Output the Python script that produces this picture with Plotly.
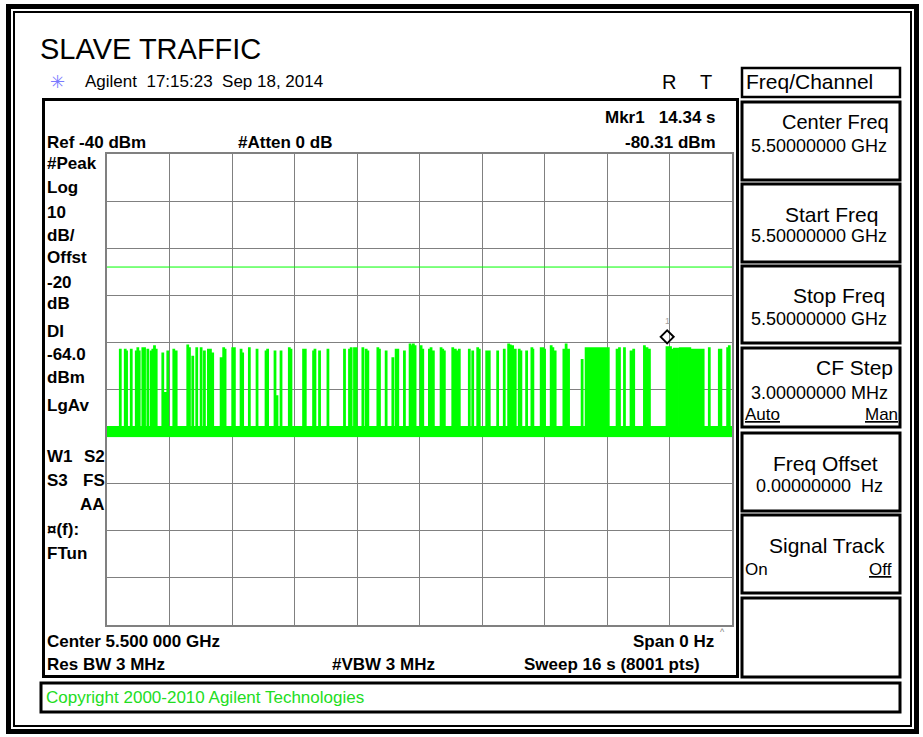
import plotly.graph_objects as go

W, H = 923, 737

# ---------------- data ----------------
sweep_s = 16.0
ref_dbm = -40.0
bottom_dbm = -140.0
display_line_dbm = -64.0
marker_t = 14.34
marker_dbm = -80.31
floor_top_dbm = -97.9
floor_bot_dbm = -100.0

# narrow bursts: start time (s) and peak level (dBm)
burst_t = [0.325, 0.452, 0.486, 0.606, 0.734, 0.774, 0.810, 0.902, 0.946, 1.030,
           1.117, 1.158, 1.201, 1.245, 1.413, 1.475, 1.541, 1.695, 1.756, 2.052,
           2.096, 2.180, 2.282, 2.395, 2.479, 2.581, 2.633, 2.691, 2.906, 2.972,
           3.008, 3.203, 3.246, 3.417, 3.458, 3.629, 3.826, 4.056, 4.097, 4.286,
           4.337, 4.440, 4.652, 4.695, 5.017, 5.061, 5.273, 5.309,
           5.426, 5.641, 6.065, 6.193, 6.236, 6.321, 6.364, 6.535, 6.620, 6.663,
           6.919, 6.960, 7.131, 7.302, 7.387, 7.430, 7.599, 7.744, 7.788, 7.829,
           7.872, 8.026, 8.069, 8.238, 8.281, 8.340, 8.537, 8.580, 8.621, 8.836,
           8.902, 8.938, 9.004, 9.260, 9.347, 9.475, 9.516, 9.705, 9.771, 9.986,
           10.155, 10.267, 10.308, 10.369, 10.436, 10.538, 10.581, 10.727,
           10.862, 10.888, 11.100, 11.144, 11.187, 11.356, 11.399, 11.458, 11.681,
           11.739, 11.801, 12.148, 13.043, 13.104, 13.232, 13.400, 13.469, 13.743,
           13.809, 13.871, 14.465, 14.650, 14.975, 15.404, 15.660, 15.701, 15.873,
           15.916]
burst_pk = [-81.5, -81.5, -81.9, -81.5, -81.9, -81.2, -81.9, -81.2, -81.2, -81.5,
            -81.9, -81.5, -80.8, -81.5, -82.3, -90.7, -81.9, -81.5, -81.9, -80.6,
            -81.2, -83.0, -81.2, -81.2, -81.9, -81.5, -81.5, -82.3, -83.3, -81.2,
            -81.5, -81.2, -81.2, -81.5, -82.3, -81.2, -81.5, -81.9, -81.5, -81.9,
            -91.4, -81.9, -81.2, -81.5, -81.5, -81.5, -81.9, -81.5,
            -81.9, -81.5, -81.5, -81.5, -81.2, -81.2, -81.2, -81.2, -81.5, -81.9,
            -81.2, -81.5, -81.9, -83.3, -81.5, -81.5, -81.9, -80.4, -80.8, -80.4,
            -80.8, -80.8, -81.5, -81.5, -81.2, -81.9, -81.2, -81.5, -81.9, -81.2,
            -81.5, -81.9, -81.5, -81.5, -81.9, -81.2, -81.5, -81.9, -81.9, -81.9,
            -81.5, -80.4, -80.6, -80.8, -81.5, -81.5, -81.9, -81.9,
            -81.2, -81.5, -81.2, -81.2, -81.5, -80.8, -81.2, -81.9, -81.5,
            -80.4, -81.5, -83.7, -81.5, -81.2, -81.2, -81.9, -81.5, -80.8,
            -81.2, -81.5, -81.5, -81.5, -81.5, -81.2, -81.5, -81.5, -81.2,
            -80.8]
burst_len_s = 0.03
# dense blocks of traffic
block_t0 = [12.250, 14.321, 14.510, 14.660, 15.020]
block_t1 = [12.848, 14.441, 14.640, 14.935, 15.277]
block_pk = [-81.2, -81.0, -81.3, -81.2, -81.5]

left_labels = ["#Peak", "Log", "10", "dB/", "Offst", "-20", "dB", "DI", "-64.0", "dBm", "LgAv",
               "W1", "S3", "¤(f):", "FTun"]
left_label_y = [163, 187, 212, 235, 258, 282, 303, 332, 355, 377, 405, 457, 480, 529, 553]

softkey_titles = ["Center Freq", "Start Freq", "Stop Freq", "CF Step", "Freq Offset", "Signal Track", ""]
softkey_values = ["5.50000000 GHz", "5.50000000 GHz", "5.50000000 GHz", "3.00000000 MHz",
                  "0.00000000  Hz", "", ""]

# ---------------- helpers ----------------
def px(x):
    return x / W

def py(y):
    return 1 - y / H

annotations = []

def txt(x, y, s, size=17, color="black", anchor="left", bold=False, family="Liberation Sans"):
    annotations.append(dict(
        x=px(x), y=py(y), xref="paper", yref="paper", text=("<b>%s</b>" % s) if bold else s,
        showarrow=False, xanchor=anchor, yanchor="middle", borderpad=0, borderwidth=0,
        font=dict(family=family, size=size, color=color)))

shapes = []

def rect(x0, y0, x1, y1, width=2, color="black"):
    shapes.append(dict(type="rect", xref="paper", yref="paper",
                       x0=px(x0), y0=py(y0), x1=px(x1), y1=py(y1),
                       line=dict(color=color, width=width), fillcolor="rgba(0,0,0,0)"))

# ---------------- trace ----------------
events = [(t, t + burst_len_s, p) for t, p in zip(burst_t, burst_pk)]
events += [(a, b, p) for a, b, p in zip(block_t0, block_t1, block_pk)]
events.sort()
xs, ys = [0.0], [floor_top_dbm]
for a, b, p in events:
    xs += [a, a, b, b]
    ys += [floor_top_dbm, p, p, floor_top_dbm]
xs.append(sweep_s)
ys.append(floor_top_dbm)

GREEN = "#00ff00"
fig = go.Figure()
fig.add_trace(go.Scatter(x=[0, sweep_s], y=[floor_bot_dbm, floor_bot_dbm], mode="lines",
                         line=dict(color=GREEN, width=1), hoverinfo="skip", showlegend=False))
fig.add_trace(go.Scatter(x=xs, y=ys, mode="lines", fill="tonexty", fillcolor=GREEN,
                         line=dict(color=GREEN, width=1.6), hoverinfo="skip", showlegend=False))
fig.add_trace(go.Scatter(x=[0, sweep_s], y=[display_line_dbm, display_line_dbm], mode="lines",
                         line=dict(color=GREEN, width=1), hoverinfo="skip", showlegend=False))
fig.add_trace(go.Scatter(x=[marker_t], y=[marker_dbm], mode="markers",
                         marker=dict(symbol="diamond-open", size=10, standoff=7, angle=180,
                                     line=dict(color="black", width=2), color="black"),
                         hoverinfo="skip", showlegend=False))
annotations.append(dict(x=marker_t, y=marker_dbm, xref="x", yref="y", text="1", showarrow=False,
                        yshift=23, font=dict(family="Liberation Sans", size=9, color="#a0a0a0")))

# ---------------- texts ----------------
txt(40, 49, "SLAVE TRAFFIC", size=29)
txt(58, 81, "✳", size=18, color="#7a7aff", anchor="center", family="DejaVu Sans")
txt(85, 82, "Agilent  17:15:23  Sep 18, 2014", size=17)
txt(662, 82, "R", size=20)
txt(700, 82, "T", size=20)
txt(746, 82, "Freq/Channel", size=21)

txt(47, 142, "Ref -40 dBm", bold=True)
txt(238, 142, "#Atten 0 dB", bold=True)
txt(716, 118, "Mkr1   14.34 s", bold=True, anchor="right")
txt(716, 142, "-80.31 dBm", bold=True, anchor="right")

for s, y in zip(left_labels, left_label_y):
    txt(47, y, s, bold=True)
txt(105, 457, "S2", bold=True, anchor="right")
txt(105, 480, "FS", bold=True, anchor="right")
txt(105, 504, "AA", bold=True, anchor="right")

txt(47, 641, "Center 5.500 000 GHz", bold=True)
txt(714, 641, "Span 0 Hz", bold=True, anchor="right")
txt(722, 632, "^", size=9, color="#808080", anchor="center")
txt(47, 664, "Res BW 3 MHz", bold=True)
txt(332, 664, "#VBW 3 MHz", bold=True)
txt(700, 664, "Sweep 16 s (8001 pts)", bold=True, anchor="right")

txt(46, 697, "Copyright 2000-2010 Agilent Technologies", size=17, color="#22dd22")

# softkeys
box_top = [102, 184, 266, 348, 433, 515, 598]
box_bot = [180, 262, 343, 427, 511, 593, 677]
title_right = [889, 878, 885, 893, 878, 885, 885]
title_y = [122, 214, 296, 368, 463, 545, 0]
title_size = [20, 21, 21, 21, 21, 21, 21]
value_left = [751, 751, 751, 751, 756, 751, 751]
value_y = [146, 236, 319, 393, 486, 0, 0]
for i in range(7):
    rect(742, box_top[i], 900, box_bot[i], width=3)
    if softkey_titles[i]:
        txt(title_right[i], title_y[i], softkey_titles[i], size=title_size[i], anchor="right")
    if softkey_values[i]:
        txt(value_left[i], value_y[i], softkey_values[i], size=18)
txt(745, 414, "<u>Auto</u>", size=17)
txt(898, 414, "<u>Man</u>", size=17, anchor="right")
txt(745, 569, "On", size=17)
txt(892, 569, "<u>Off</u>", size=17, anchor="right")

# frames
rect(8.5, 6.5, 916.5, 731.5, width=5)
rect(14, 12, 911, 726, width=2)
rect(43.5, 99.5, 737.5, 676.5, width=3)
rect(742, 68, 900, 97, width=2.5)
rect(41, 683, 900, 712, width=3)

fig.update_layout(
    width=W, height=H, margin=dict(l=0, r=0, t=0, b=0),
    paper_bgcolor="white", plot_bgcolor="white",
    xaxis=dict(domain=[px(107), px(732)], range=[0, sweep_s], dtick=sweep_s / 10, tick0=0,
               showgrid=True, gridcolor="#808080", gridwidth=1, zeroline=False,
               showticklabels=False, ticks="", showline=True, mirror=True,
               linecolor="#808080", linewidth=2, fixedrange=True),
    yaxis=dict(domain=[py(625), py(154)], range=[bottom_dbm, ref_dbm], dtick=10, tick0=-140,
               showgrid=True, gridcolor="#808080", gridwidth=1, zeroline=False,
               showticklabels=False, ticks="", showline=True, mirror=True,
               linecolor="#808080", linewidth=2, fixedrange=True),
    annotations=annotations, shapes=shapes, showlegend=False,
)

fig.write_html("out.html", config={"displayModeBar": False},
               post_script="document.body.style.margin='0px';document.body.style.overflow='hidden';")
